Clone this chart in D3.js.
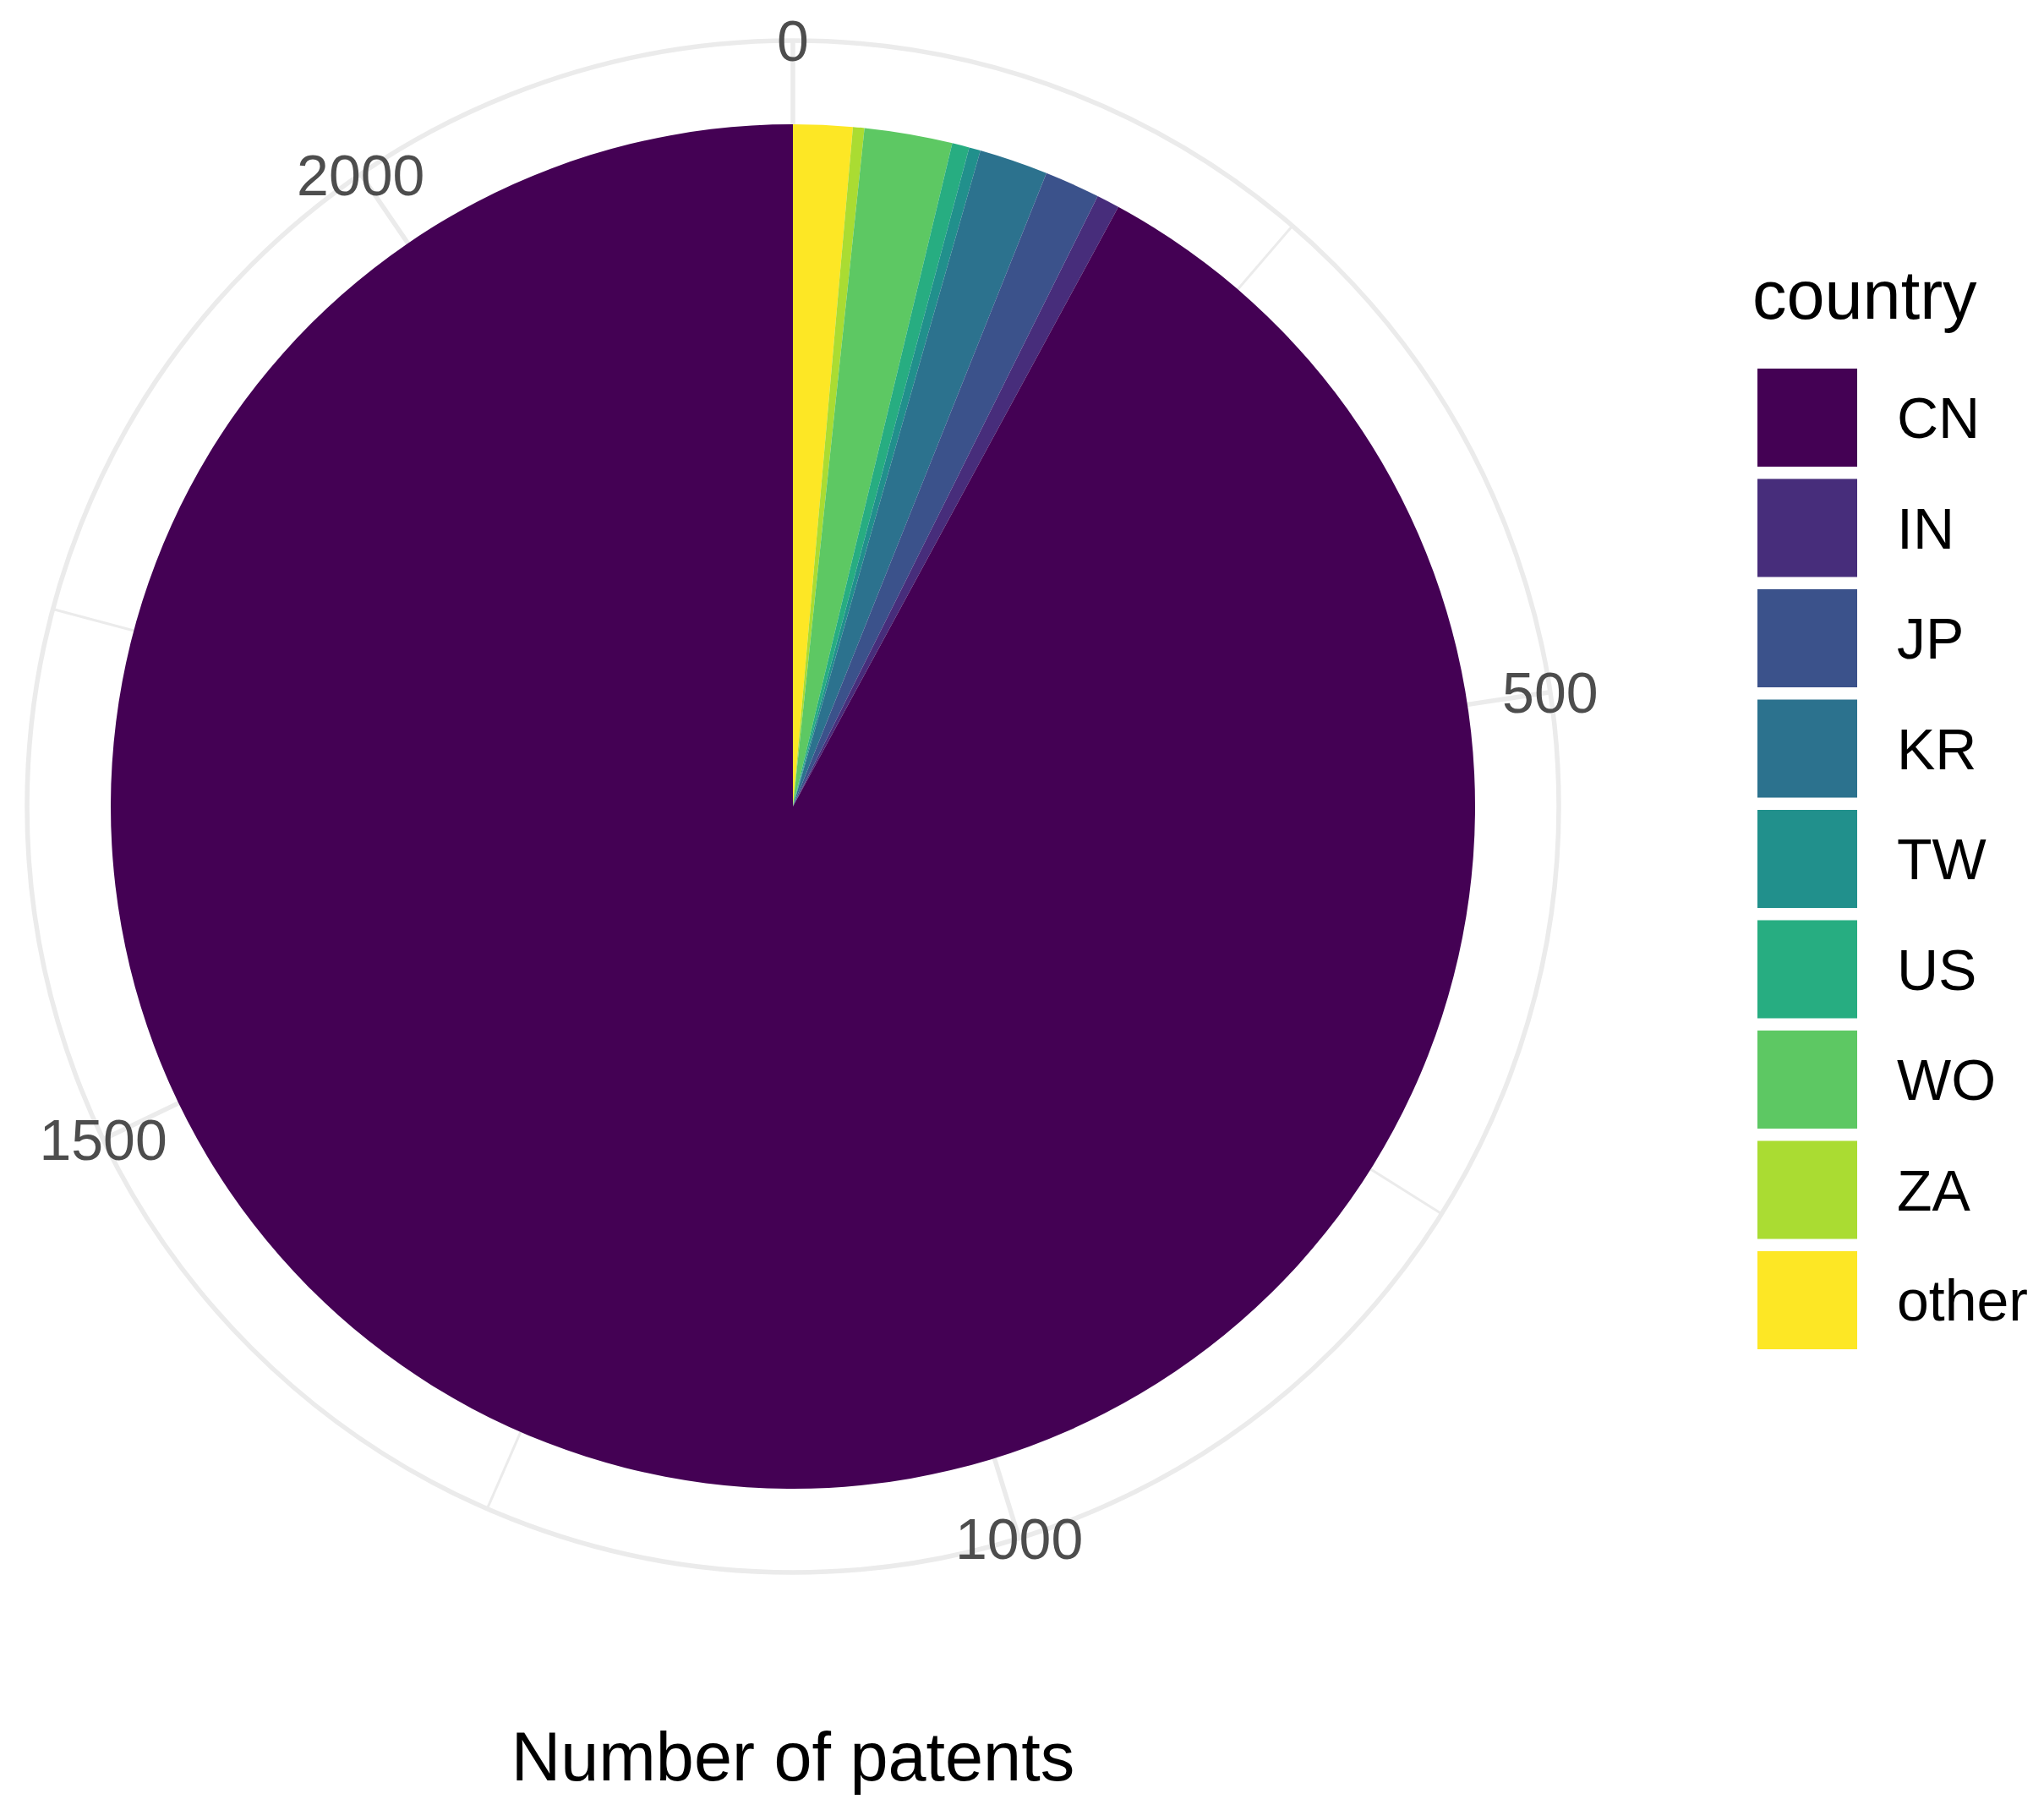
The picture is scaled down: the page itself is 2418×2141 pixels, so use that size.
<!DOCTYPE html>
<html>
<head>
<meta charset="utf-8">
<script src="https://cdn.jsdelivr.net/npm/d3@7"></script>
<style>
  html, body { margin: 0; padding: 0; background: #ffffff; }
  svg { display: block; }
  text { font-family: "Liberation Sans", Arial, Helvetica, sans-serif; }
</style>
</head>
<body>
<div id="chart"></div>
<script>
// ---- data ----
const countries = ["CN", "IN", "JP", "KR", "TW", "US", "WO", "ZA", "other"];
const patents   = [2036, 12, 29, 36, 6, 9, 46, 6, 31];
const colors    = ["#440154", "#472D7B", "#3B528B", "#2C728E", "#21908C", "#27AD81", "#5DC863", "#AADC32", "#FDE725"];
const majorTicks = [0, 500, 1000, 1500, 2000];
const minorTicks = [250, 750, 1250, 1750];
const tickLabels = ["0", "500", "1000", "1500", "2000"];
const legendTitle = "country";
const axisTitle = "Number of patents";

// ---- layout ----
const W = 2418, H = 2141;
const cx = 938, cy = 954;
const rPie = 807, rOuter = 906;

const svg = d3.select("#chart").append("svg")
  .attr("width", W).attr("height", H)
  .attr("viewBox", `0 0 ${W} ${H}`);

const total = d3.sum(patents);
const theta = d3.scaleLinear().domain([0, total]).range([0, 2 * Math.PI]);
const color = d3.scaleOrdinal().domain(countries).range(colors);

const g = svg.append("g").attr("transform", `translate(${cx},${cy})`);

// grid: outer circle + theta lines
const grid = g.append("g").attr("class", "grid");
grid.append("circle").attr("r", rOuter)
  .attr("fill", "none").attr("stroke", "#EBEBEB").attr("stroke-width", 5.5);
grid.selectAll("line.minor").data(minorTicks).join("line")
  .attr("class", "minor")
  .attr("x1", 0).attr("y1", 0)
  .attr("x2", d => rOuter * Math.sin(theta(d)))
  .attr("y2", d => -rOuter * Math.cos(theta(d)))
  .attr("stroke", "#EBEBEB").attr("stroke-width", 3);
grid.selectAll("line.major").data(majorTicks).join("line")
  .attr("class", "major")
  .attr("x1", 0).attr("y1", 0)
  .attr("x2", d => rOuter * Math.sin(theta(d)))
  .attr("y2", d => -rOuter * Math.cos(theta(d)))
  .attr("stroke", "#EBEBEB").attr("stroke-width", 5.5);

// stacked wedges: last level starts at 0 (ggplot stacking order)
const stackOrder = countries.map((c, i) => ({ country: c, value: patents[i] })).reverse();
let acc = 0;
stackOrder.forEach(d => { d.start = acc; acc += d.value; d.end = acc; });

const arc = d3.arc().innerRadius(0).outerRadius(rPie);
g.selectAll("path.wedge").data(stackOrder).join("path")
  .attr("class", "wedge")
  .attr("d", d => arc({ startAngle: theta(d.start), endAngle: theta(d.end) }))
  .attr("fill", d => color(d.country));

// theta labels centred on the outer circle
g.selectAll("text.tick").data(majorTicks).join("text")
  .attr("class", "tick")
  .attr("x", d => rOuter * Math.sin(theta(d)))
  .attr("y", d => -rOuter * Math.cos(theta(d)))
  .attr("dy", "0.36em")
  .attr("text-anchor", "middle")
  .attr("font-size", 68)
  .attr("fill", "#4D4D4D")
  .text((d, i) => tickLabels[i]);

// axis title
svg.append("text")
  .attr("x", cx).attr("y", 2106)
  .attr("text-anchor", "middle")
  .attr("font-size", 81)
  .attr("fill", "#000")
  .text(axisTitle);

// legend
const lg = svg.append("g").attr("class", "legend");
lg.append("text").attr("x", 2073).attr("y", 377)
  .attr("font-size", 81).attr("fill", "#000").text(legendTitle);
const keyTop = 436, keyPitch = 130.5, keyH = 116, keyW = 118, keyX = 2079;
const items = lg.selectAll("g.item").data(countries).join("g")
  .attr("class", "item")
  .attr("transform", (d, i) => `translate(${keyX},${keyTop + i * keyPitch})`);
items.append("rect").attr("width", keyW).attr("height", keyH)
  .attr("fill", d => color(d));
items.append("text").attr("x", 2244 - keyX).attr("y", keyH / 2)
  .attr("dy", "0.36em").attr("font-size", 68).attr("fill", "#000")
  .text(d => d);
</script>
</body>
</html>
